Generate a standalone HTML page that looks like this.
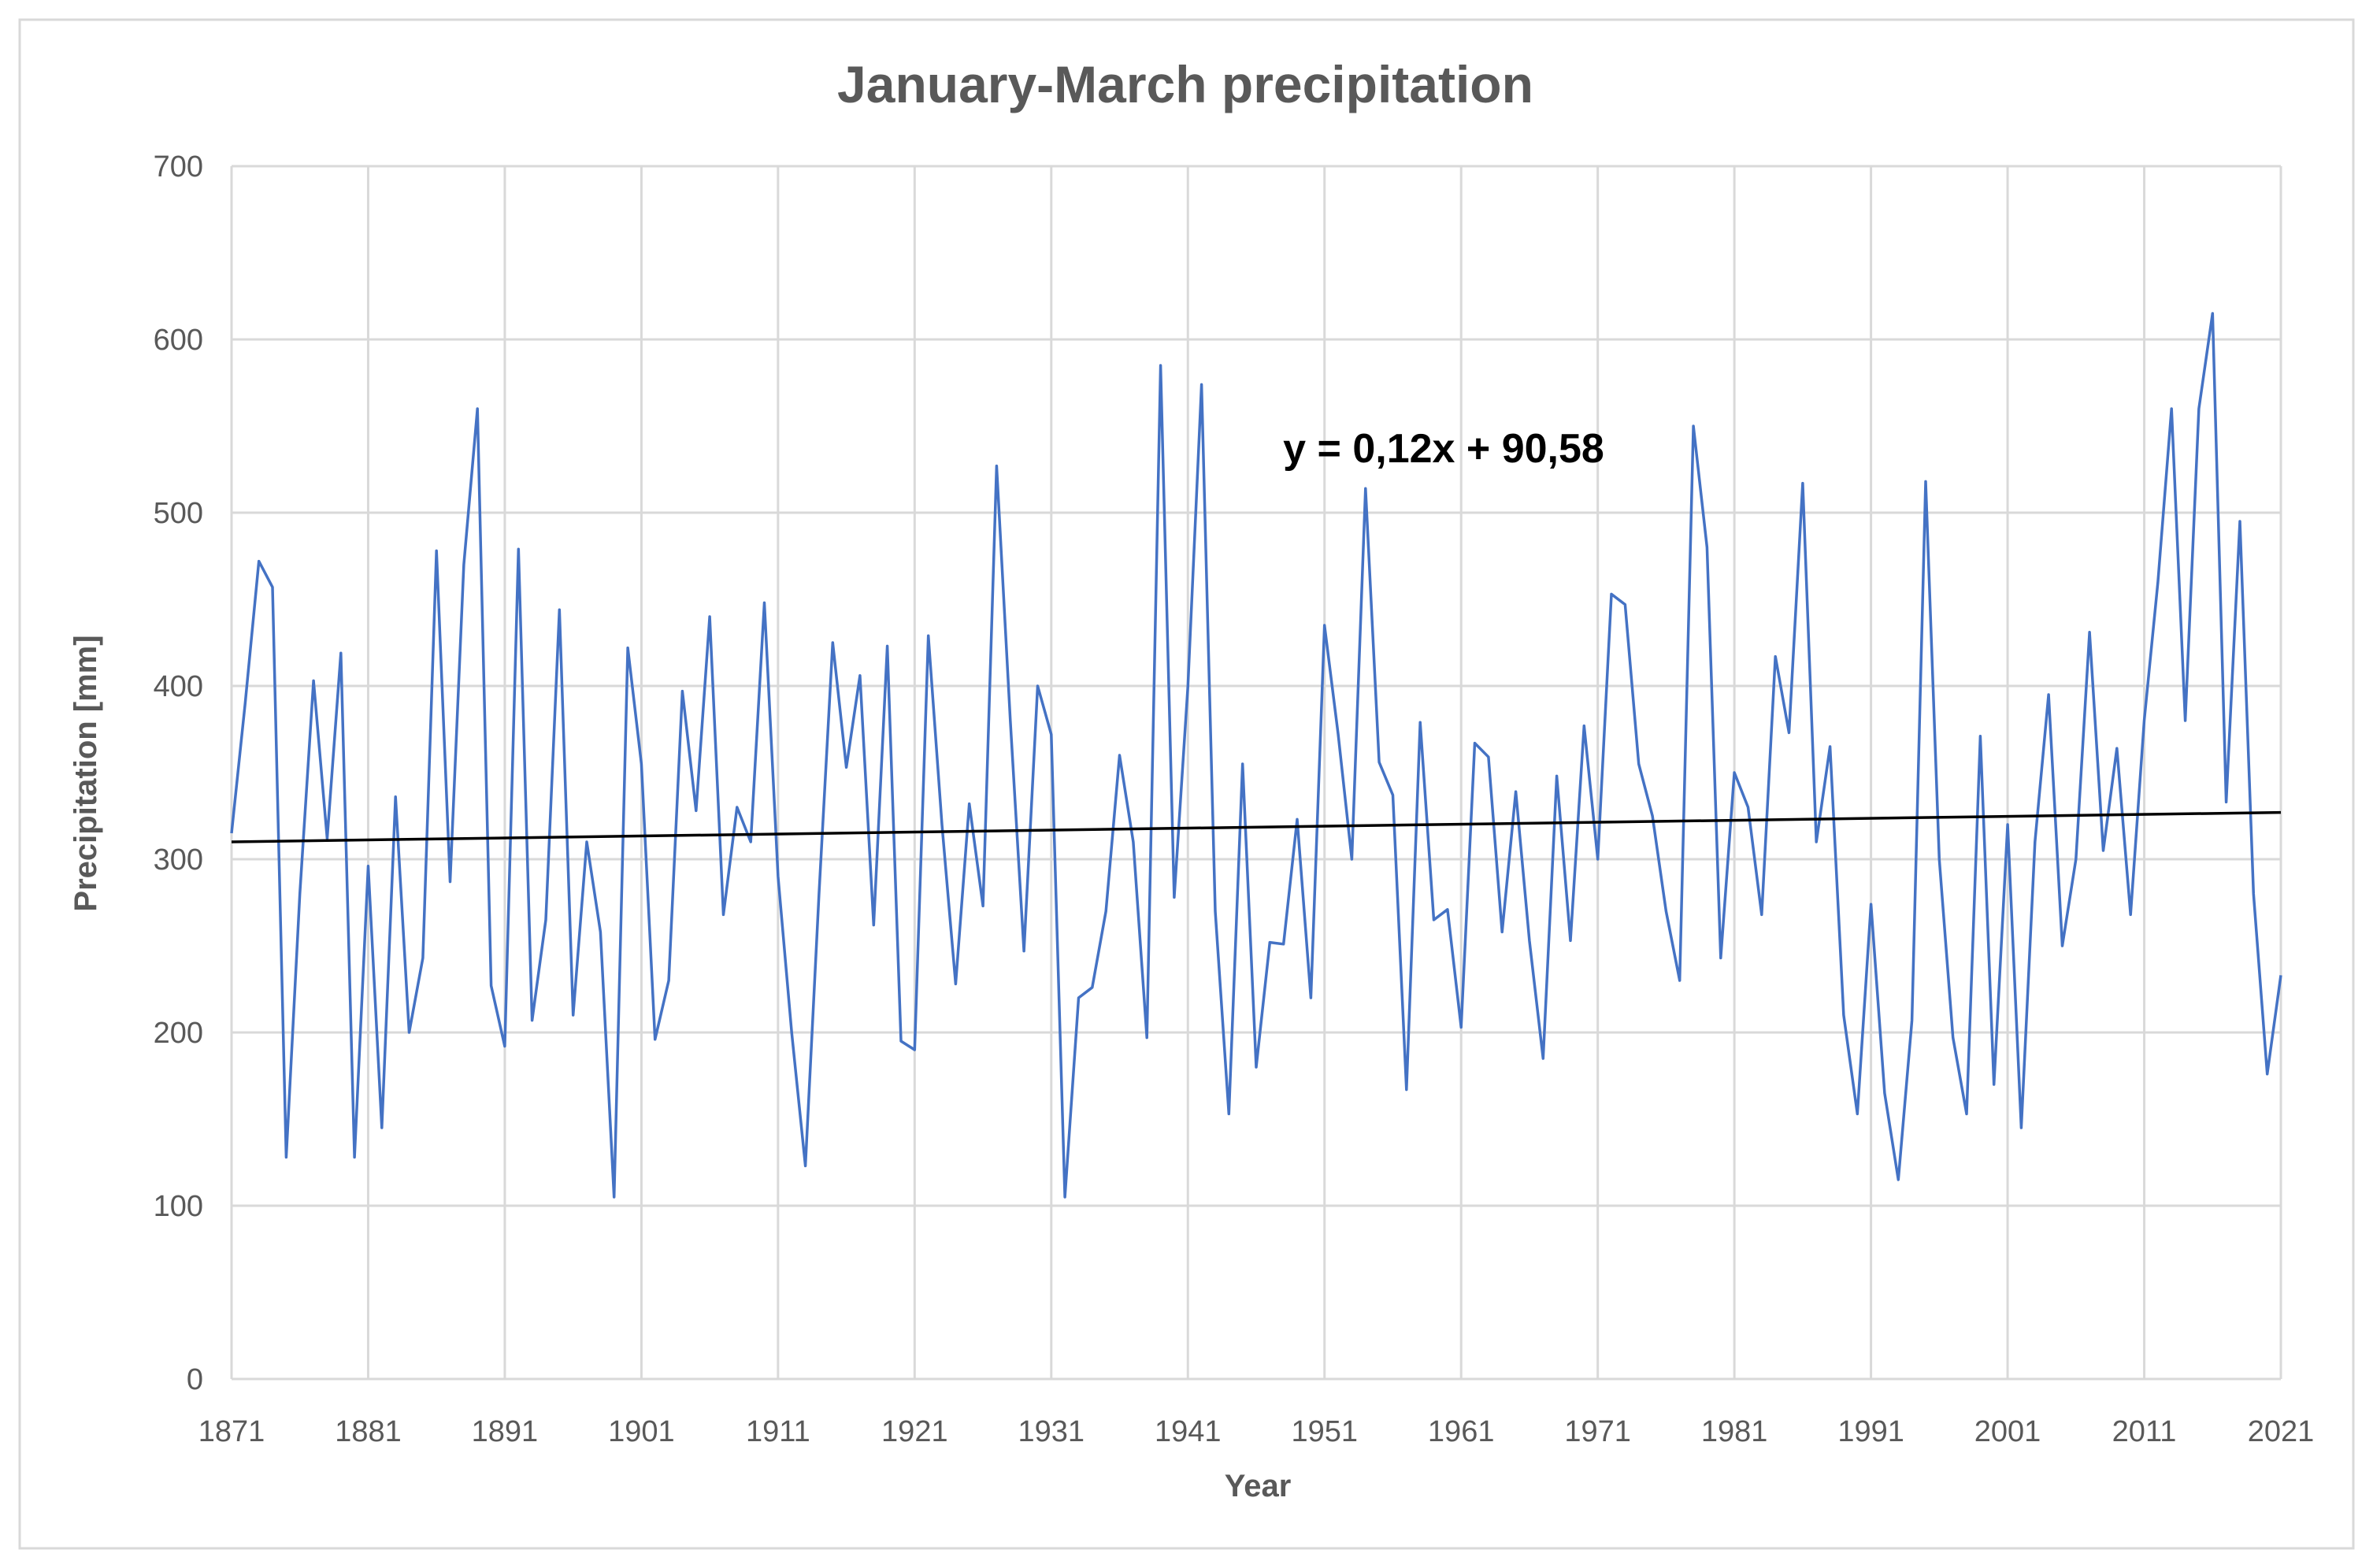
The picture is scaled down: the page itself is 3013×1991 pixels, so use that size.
<!DOCTYPE html>
<html><head><meta charset="utf-8"><style>
html,body{margin:0;padding:0;background:#fff;}
svg{display:block;font-family:"Liberation Sans",sans-serif;}
</style></head><body>
<svg id="chart" width="3013" height="1991" viewBox="0 0 3013 1991">
<rect x="25" y="25" width="2963" height="1941" fill="#fff" stroke="#d9d9d9" stroke-width="3"/>
<text x="1505" y="130" text-anchor="middle" font-size="66" font-weight="bold" fill="#595959">January-March precipitation</text>
<g id="grid"></g>
<g id="ticks"></g>
<g id="series"></g>
<text x="1597" y="1900" text-anchor="middle" font-size="40" font-weight="bold" fill="#595959">Year</text>
<text transform="translate(122,982) rotate(-90)" text-anchor="middle" font-size="40" font-weight="bold" fill="#595959">Precipitation [mm]</text>
<text x="1833" y="587" text-anchor="middle" font-size="52" font-weight="bold" fill="#000">y = 0,12x + 90,58</text>
</svg>
<script>
const years = [];
for (let y = 1871; y <= 2021; y++) years.push(y);
const precipitation = [315,390,472,457,128,280,403,312,419,128,296,145,336,200,243,478,287,470,560,227,
192,479,207,265,444,210,310,258,105,422,355,196,230,397,328,440,268,330,310,448,
290,200,123,280,425,353,406,262,423,195,190,429,320,228,332,273,527,380,247,400,
372,105,220,226,270,360,310,197,585,278,400,574,270,153,355,180,252,251,323,220,
435,372,300,514,356,337,167,379,265,271,203,367,359,258,339,253,185,348,253,377,
300,453,447,355,325,270,230,550,480,243,350,330,268,417,373,517,310,365,210,153,
274,165,115,207,518,300,197,153,371,170,320,145,310,395,250,300,431,305,364,268,
380,460,560,380,560,615,333,495,280,176,233];
const yTicks = [0,100,200,300,400,500,600,700];
const xTicks = [1871,1881,1891,1901,1911,1921,1931,1941,1951,1961,1971,1981,1991,2001,2011,2021];
const trendStart = 310, trendEnd = 327;

const X0=294, X1=2896, Y0=1751, Y1=211;
const xs = y => X0 + (y-1871)/(2021-1871)*(X1-X0);
const ys = v => Y0 - v/700*(Y0-Y1);
const NS="http://www.w3.org/2000/svg";
const grid=document.getElementById('grid'), ticks=document.getElementById('ticks'), series=document.getElementById('series');
function mk(tag,attrs,parent){const e=document.createElementNS(NS,tag);for(const k in attrs)e.setAttribute(k,attrs[k]);parent.appendChild(e);return e;}
yTicks.forEach(v=>{
  const l=mk('line',{x1:X0,x2:X1,y1:ys(v),y2:ys(v),stroke:'#d9d9d9','stroke-width':3},grid);
  
  
  const t=mk('text',{x:258,y:ys(v)+13,'text-anchor':'end','font-size':38,fill:'#595959'},ticks);
  t.textContent=v;
  
  
});
xTicks.forEach(v=>{
  const l=mk('line',{x1:xs(v),x2:xs(v),y1:Y1,y2:Y0,stroke:'#d9d9d9','stroke-width':3},grid);
  
  
  const t=mk('text',{x:xs(v),y:1830,'text-anchor':'middle','font-size':38,fill:'#595959'},ticks);
  t.textContent=v;
  
  
});
const pts=years.map((y,i)=>xs(y).toFixed(1)+','+ys(precipitation[i]).toFixed(1)).join(' ');
const pl=mk('polyline',{points:pts,fill:'none',stroke:'#4472c4','stroke-width':3.5,'stroke-linejoin':'round'},series);


const tl=mk('line',{x1:xs(1871),y1:ys(trendStart),x2:xs(2021),y2:ys(trendEnd),stroke:'#000','stroke-width':3.5},series);


</script>
</body></html>
